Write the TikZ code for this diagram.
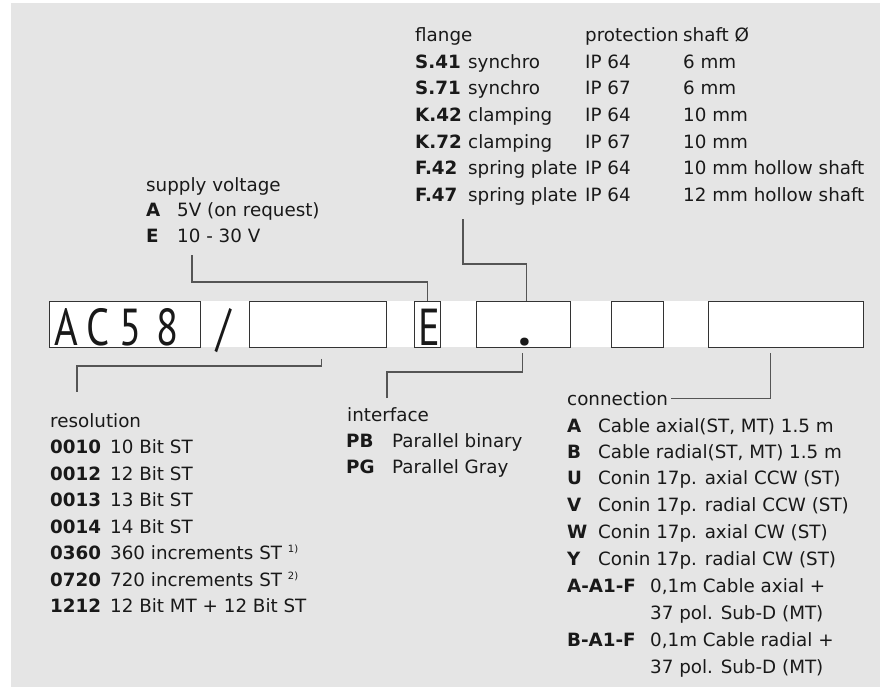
\documentclass[tikz,border=0pt]{standalone}
\usepackage{fontspec}
\setmainfont{DejaVu Sans}
\newfontfamily\bigfam{PT Sans}
\usetikzlibrary{calc}
\definecolor{bg}{HTML}{E5E5E5}
\definecolor{linegray}{HTML}{555555}
\definecolor{boxline}{HTML}{333333}
\newcommand{\bigfont}{\bigfam\fontsize{52}{52}\selectfont}
\newcommand{\supnote}[1]{\raisebox{0.7ex}{\fontsize{10}{10}\selectfont #1}}
\begin{document}
\begin{tikzpicture}[x=1pt,y=-1pt,
  lbl/.style={anchor=base west, inner sep=0pt, font=\fontsize{18.3}{20}\selectfont, text=black!90},
  code/.style={lbl, font=\fontsize{18.3}{20}\selectfont\bfseries},
  conn/.style={draw=linegray, line width=1.1pt},
  cell/.style={draw=boxline, line width=0.8pt, fill=white, minimum height=46pt, inner sep=0pt, anchor=north west},
  big/.style={anchor=base, inner sep=0pt, font=\bigfont, text=black!90}]
\useasboundingbox (0,0) rectangle (880,687);
\fill[bg] (11,3) rectangle (880,687);

% code row
\fill[white] (49,301) rectangle (863,347);
\node[cell, minimum width=151pt] (b1) at (49,301) {};
\node[cell, minimum width=137pt] (b2) at (249,301) {};
\node[cell, minimum width=26pt]  (b3) at (414,301) {};
\node[cell, minimum width=94pt]  (b4) at (476,301) {};
\node[cell, minimum width=52pt]  (b5) at (611,301) {};
\node[cell, minimum width=155pt] (b6) at (708,301) {};
\node[big] (lA) at (66.5,345) {\scalebox{0.78}[1]{A}};
\node[big] (lC) at (98,345) {\scalebox{0.78}[1]{C}};
\node[big] (l5) at (131,345) {\scalebox{0.78}[1]{5}};
\node[big] (l8) at (167.5,345) {\scalebox{0.78}[1]{8}};
\node[big] (lsl) at (224,345) {\scalebox{0.78}[1]{/}};
\node[big] (lE) at (429,345) {\scalebox{0.78}[1]{E}};
\node[big] (ldot) at (525,345) {\textbf{.}};

% flange table
\node[lbl] (fh) at (415,41.5) {flange};
\node[lbl] (ph) at (585,41.5) {protection};
\node[lbl] (sh) at (683,41.5) {shaft Ø};
\node[code] (f1c) at (415,68.5) {S.41};
\node[lbl]  (f1d) at (468,68.5) {synchro};
\node[lbl]  (f1p) at (585,68.5) {IP 64};
\node[lbl]  (f1s) at (683,68.5) {6 mm};
\node[code] (f2c) at (415,95) {S.71};
\node[lbl]  (f2d) at (468,95) {synchro};
\node[lbl]  (f2p) at (585,95) {IP 67};
\node[lbl]  (f2s) at (683,95) {6 mm};
\node[code] (f3c) at (415,121.5) {K.42};
\node[lbl]  (f3d) at (468,121.5) {clamping};
\node[lbl]  (f3p) at (585,121.5) {IP 64};
\node[lbl]  (f3s) at (683,121.5) {10 mm};
\node[code] (f4c) at (415,148.5) {K.72};
\node[lbl]  (f4d) at (468,148.5) {clamping};
\node[lbl]  (f4p) at (585,148.5) {IP 67};
\node[lbl]  (f4s) at (683,148.5) {10 mm};
\node[code] (f5c) at (415,175) {F.42};
\node[lbl]  (f5d) at (468,175) {spring plate};
\node[lbl]  (f5p) at (585,175) {IP 64};
\node[lbl]  (f5s) at (683,175) {10 mm hollow shaft};
\node[code] (f6c) at (415,201.5) {F.47};
\node[lbl]  (f6d) at (468,201.5) {spring plate};
\node[lbl]  (f6p) at (585,201.5) {IP 64};
\node[lbl]  (f6s) at (683,201.5) {12 mm hollow shaft};

% supply voltage
\node[lbl]  (svh) at (146,191) {supply voltage};
\node[code] (sv1c) at (146,216.5) {A};
\node[lbl]  (sv1d) at (177,216.5) {5V (on request)};
\node[code] (sv2c) at (146,242) {E};
\node[lbl]  (sv2d) at (177,242) {10 - 30 V};

% resolution
\node[lbl]  (rh) at (50,427) {resolution};
\node[code] (r1c) at (50,453.5) {0010};
\node[lbl]  (r1d) at (110,453.5) {10 Bit ST};
\node[code] (r2c) at (50,480) {0012};
\node[lbl]  (r2d) at (110,480) {12 Bit ST};
\node[code] (r3c) at (50,506.5) {0013};
\node[lbl]  (r3d) at (110,506.5) {13 Bit ST};
\node[code] (r4c) at (50,533) {0014};
\node[lbl]  (r4d) at (110,533) {14 Bit ST};
\node[code] (r5c) at (50,559.5) {0360};
\node[lbl]  (r5d) at (110,559.5) {360 increments ST \supnote{1)}};
\node[code] (r6c) at (50,586) {0720};
\node[lbl]  (r6d) at (110,586) {720 increments ST \supnote{2)}};
\node[code] (r7c) at (50,612.5) {1212};
\node[lbl]  (r7d) at (110,612.5) {12 Bit MT + 12 Bit ST};

% interface
\node[lbl]  (ih) at (347,421) {interface};
\node[code] (i1c) at (346,447) {PB};
\node[lbl]  (i1d) at (392,447) {Parallel binary};
\node[code] (i2c) at (346,473) {PG};
\node[lbl]  (i2d) at (392,473) {Parallel Gray};

% connection
\node[lbl]  (ch) at (567,405) {connection};
\node[code] (c1c) at (567,432) {A};
\node[lbl]  (c1d) at (598,432) {Cable axial(ST, MT) 1.5 m};
\node[code] (c2c) at (567,458) {B};
\node[lbl]  (c2d) at (598,458) {Cable radial(ST, MT) 1.5 m};
\node[code] (c3c) at (567,484.5) {U};
\node[lbl]  (c3d) at (598,484.5) {Conin 17p. axial CCW (ST)};
\node[code] (c4c) at (567,511) {V};
\node[lbl]  (c4d) at (598,511) {Conin 17p. radial CCW (ST)};
\node[code] (c5c) at (567,538) {W};
\node[lbl]  (c5d) at (598,538) {Conin 17p. axial CW (ST)};
\node[code] (c6c) at (567,565) {Y};
\node[lbl]  (c6d) at (598,565) {Conin 17p. radial CW (ST)};
\node[code] (c7c) at (567,592) {A-A1-F};
\node[lbl]  (c7d) at (650,592) {0,1m Cable axial +};
\node[lbl]  (c7e) at (650,619) {37 pol. Sub-D (MT)};
\node[code] (c8c) at (567,646) {B-A1-F};
\node[lbl]  (c8d) at (650,646) {0,1m Cable radial +};
\node[lbl]  (c8e) at (650,673) {37 pol. Sub-D (MT)};

% connector end points
\coordinate (svend) at (192,255);
\coordinate (flend) at (463,219);
\coordinate (rsend) at (77,392);
\coordinate (ifend) at (387,398);
\coordinate (b2hook) at ($(b2.south)+(3.5,11)$);
\coordinate (b4hook) at ($(b4.south)+(-1,5)$);
\coordinate (b6hook) at ($(b6.south)+(-15.5,5)$);
\coordinate (chend) at ($(ch.east)+(3,0)$);

% connectors
\draw[conn] (svend) -- (192,282) -| (b3.north);
\draw[conn] (flend) -- (463,264) -| ([xshift=3pt]b4.north);
\draw[conn] (b2hook) |- (77,366) -- (rsend);
\draw[conn] (ifend) |- (b4hook |- 0,372) -- (b4hook);
\draw[conn] (chend) -| (b6hook);
\end{tikzpicture}
\end{document}
